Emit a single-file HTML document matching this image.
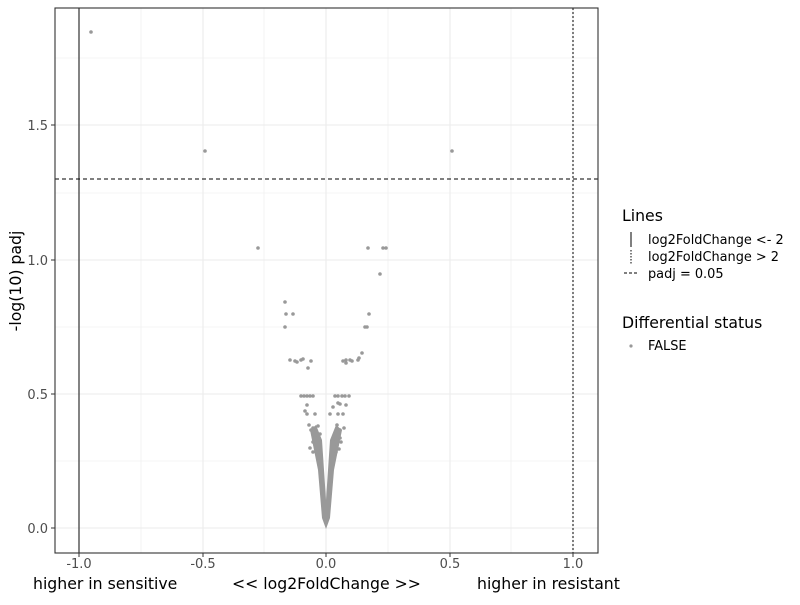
<!DOCTYPE html>
<html><head><meta charset="utf-8"><style>
body{margin:0;background:#fff;}
text{font-family:"DejaVu Sans","Liberation Sans",sans-serif;}
</style></head><body>
<svg width="800" height="600" xmlns="http://www.w3.org/2000/svg">
<rect width="800" height="600" fill="#fff"/>
<g stroke="#ebebeb" stroke-width="0.6">
<line x1="141" y1="8" x2="141" y2="553"/><line x1="264" y1="8" x2="264" y2="553"/><line x1="388" y1="8" x2="388" y2="553"/><line x1="511" y1="8" x2="511" y2="553"/>
<line x1="55" y1="461" x2="598" y2="461"/><line x1="55" y1="327" x2="598" y2="327"/><line x1="55" y1="193" x2="598" y2="193"/><line x1="55" y1="58" x2="598" y2="58"/>
</g>
<g stroke="#ebebeb" stroke-width="1.1">
<line x1="79" y1="8" x2="79" y2="553"/><line x1="203" y1="8" x2="203" y2="553"/><line x1="326" y1="8" x2="326" y2="553"/><line x1="450" y1="8" x2="450" y2="553"/><line x1="573" y1="8" x2="573" y2="553"/>
<line x1="55" y1="528" x2="598" y2="528"/><line x1="55" y1="394" x2="598" y2="394"/><line x1="55" y1="260" x2="598" y2="260"/><line x1="55" y1="125" x2="598" y2="125"/>
</g>
<g fill="#999">
<polygon points="326,529 322,518 318,470 313,445 310,430 316,425 322,440 326,500 330,440 336,425 342,430 339,445 334,470 330,518"/>
<circle cx="91" cy="32" r="1.8"/><circle cx="205" cy="151" r="1.8"/><circle cx="452" cy="151" r="1.8"/>
<circle cx="258" cy="248" r="1.8"/><circle cx="368" cy="248" r="1.8"/><circle cx="383" cy="248" r="1.8"/><circle cx="386" cy="248" r="1.8"/><circle cx="380" cy="274" r="1.8"/>
<circle cx="285" cy="302" r="1.8"/><circle cx="286" cy="314" r="1.8"/><circle cx="293" cy="314" r="1.8"/><circle cx="285" cy="327" r="1.8"/>
<circle cx="369" cy="314" r="1.8"/><circle cx="367" cy="327" r="1.8"/><circle cx="365" cy="327" r="1.8"/><circle cx="362" cy="353" r="1.8"/>
<circle cx="290" cy="360" r="1.8"/><circle cx="295" cy="361" r="1.8"/><circle cx="297" cy="362" r="1.8"/><circle cx="301" cy="360" r="1.8"/><circle cx="303" cy="359" r="1.8"/><circle cx="308" cy="368" r="1.8"/><circle cx="311" cy="361" r="1.8"/>
<circle cx="343" cy="361" r="1.8"/><circle cx="346" cy="360" r="1.8"/><circle cx="346" cy="363" r="1.8"/><circle cx="350" cy="360" r="1.8"/><circle cx="352" cy="361" r="1.8"/><circle cx="358" cy="360" r="1.8"/><circle cx="359" cy="358" r="1.8"/>
<circle cx="301" cy="396" r="1.8"/><circle cx="304" cy="396" r="1.8"/><circle cx="307" cy="396" r="1.8"/><circle cx="310" cy="396" r="1.8"/><circle cx="313" cy="396" r="1.8"/>
<circle cx="335" cy="396" r="1.8"/><circle cx="338" cy="396" r="1.8"/><circle cx="342" cy="396" r="1.8"/><circle cx="345" cy="396" r="1.8"/><circle cx="349" cy="396" r="1.8"/>
<circle cx="307" cy="405" r="1.8"/><circle cx="305" cy="411" r="1.8"/><circle cx="307" cy="414" r="1.8"/><circle cx="315" cy="414" r="1.8"/>
<circle cx="333" cy="407" r="1.8"/><circle cx="338" cy="403" r="1.8"/><circle cx="340" cy="404" r="1.8"/><circle cx="346" cy="405" r="1.8"/><circle cx="330" cy="414" r="1.8"/><circle cx="338" cy="414" r="1.8"/><circle cx="343" cy="414" r="1.8"/>
<circle cx="309" cy="425" r="1.8"/><circle cx="313" cy="428" r="1.8"/><circle cx="318" cy="426" r="1.8"/><circle cx="311" cy="430" r="1.8"/><circle cx="315" cy="436" r="1.8"/><circle cx="320" cy="434" r="1.8"/><circle cx="313" cy="442" r="1.8"/>
<circle cx="337" cy="425" r="1.8"/><circle cx="340" cy="430" r="1.8"/><circle cx="344" cy="428" r="1.8"/><circle cx="333" cy="440" r="1.8"/><circle cx="337" cy="445" r="1.8"/><circle cx="341" cy="442" r="1.8"/><circle cx="340" cy="438" r="1.8"/>
<circle cx="310" cy="448" r="1.8"/><circle cx="313" cy="452" r="1.8"/><circle cx="318" cy="449" r="1.8"/><circle cx="336" cy="452" r="1.8"/><circle cx="339" cy="449" r="1.8"/>
</g>
<line x1="79" y1="8" x2="79" y2="553" stroke="#333" stroke-width="1.2"/>
<line x1="573" y1="8" x2="573" y2="553" stroke="#000" stroke-width="1" stroke-dasharray="2,2"/>
<line x1="55" y1="179" x2="598" y2="179" stroke="#000" stroke-width="1" stroke-dasharray="4,3"/>
<rect x="55" y="8" width="543" height="545" fill="none" stroke="#333" stroke-width="1.1"/>
<g stroke="#333" stroke-width="1">
<line x1="79" y1="553" x2="79" y2="557"/><line x1="203" y1="553" x2="203" y2="557"/><line x1="326" y1="553" x2="326" y2="557"/><line x1="450" y1="553" x2="450" y2="557"/><line x1="573" y1="553" x2="573" y2="557"/>
<line x1="51" y1="528" x2="55" y2="528"/><line x1="51" y1="394" x2="55" y2="394"/><line x1="51" y1="260" x2="55" y2="260"/><line x1="51" y1="125" x2="55" y2="125"/>
</g>
<g font-size="13" fill="#4d4d4d" text-anchor="middle">
<text x="79" y="568">-1.0</text><text x="203" y="568">-0.5</text><text x="326" y="568">0.0</text><text x="450" y="568">0.5</text><text x="573" y="568">1.0</text>
</g>
<g font-size="13" fill="#4d4d4d" text-anchor="end">
<text x="48" y="533">0.0</text><text x="48" y="399">0.5</text><text x="48" y="265">1.0</text><text x="48" y="130">1.5</text>
</g>
<g font-size="15.7" fill="#000">
<text x="33" y="589">higher in sensitive</text>
<text x="232" y="589">&lt;&lt; log2FoldChange &gt;&gt;</text>
<text x="477" y="589">higher in resistant</text>
<text transform="translate(21,281) rotate(-90)" text-anchor="middle">-log(10) padj</text>
<text x="622" y="221">Lines</text>
<text x="622" y="328">Differential status</text>
</g>
<line x1="631" y1="232" x2="631" y2="247" stroke="#000" stroke-width="1"/>
<line x1="631" y1="250" x2="631" y2="265" stroke="#000" stroke-width="1" stroke-dasharray="1.5,1.5"/>
<line x1="624" y1="273" x2="639" y2="273" stroke="#000" stroke-width="1" stroke-dasharray="3,2"/>
<circle cx="631" cy="346" r="1.6" fill="#999"/>
<g font-size="12.9" fill="#000">
<text x="648" y="244">log2FoldChange &lt;- 2</text>
<text x="648" y="261">log2FoldChange &gt; 2</text>
<text x="648" y="278">padj = 0.05</text>
<text x="648" y="350">FALSE</text>
</g>
</svg>
</body></html>
